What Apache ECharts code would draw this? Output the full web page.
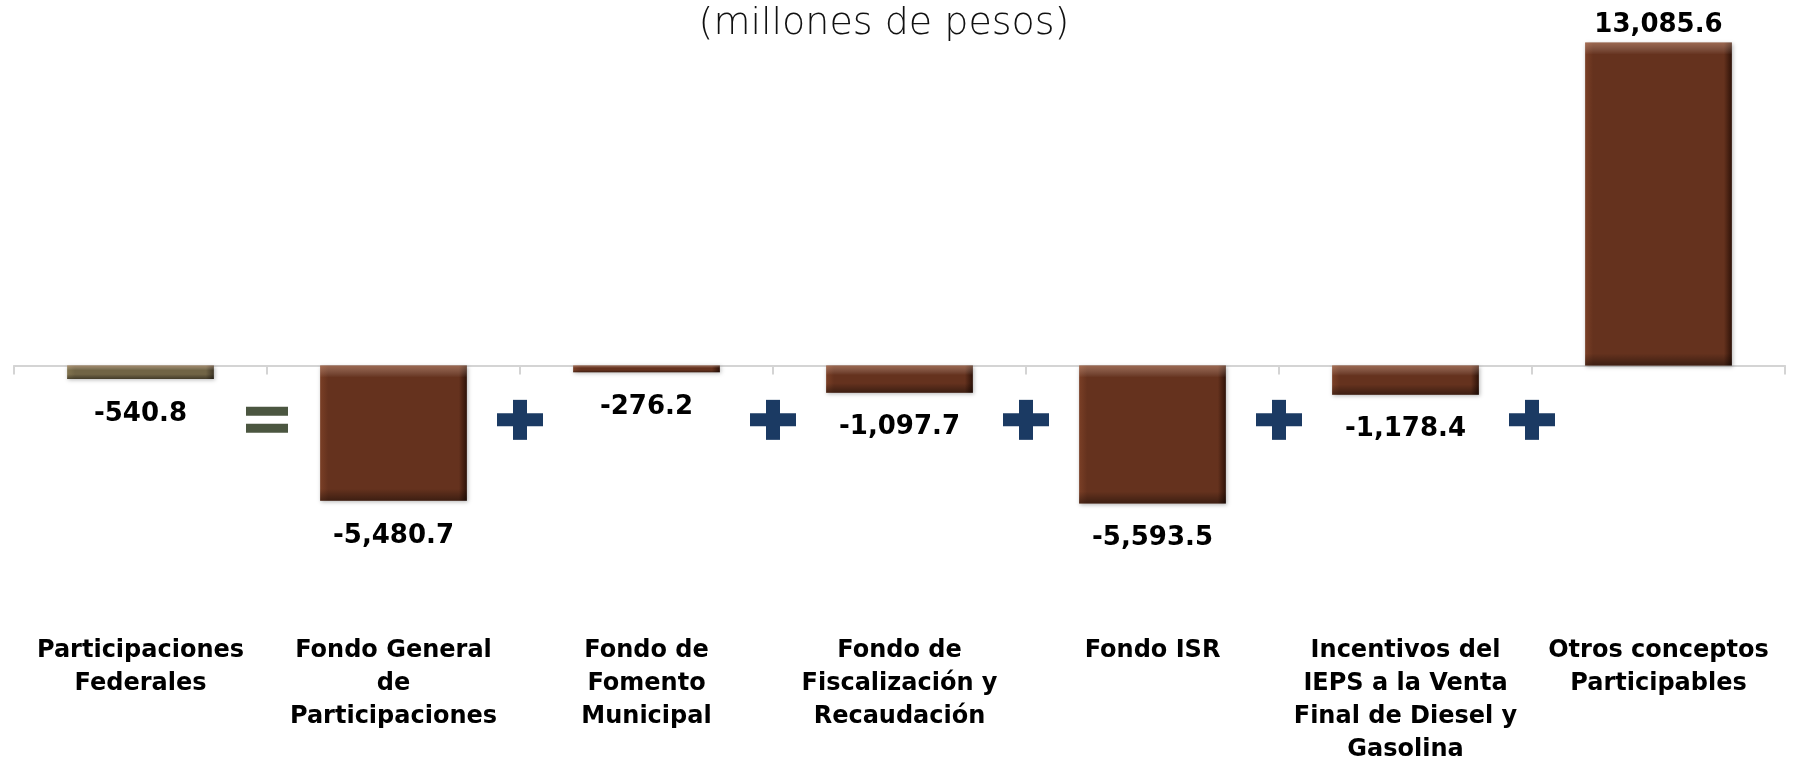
<!DOCTYPE html>
<html>
<head>
<meta charset="utf-8">
<title>Participaciones Federales</title>
<style>
  html, body { margin: 0; padding: 0; background: #fff; }
  #chart { width: 1794px; height: 758px; }
</style>
<script src="https://cdn.jsdelivr.net/npm/echarts@6/dist/echarts.min.js"></script>
</head>
<body>
<div id="chart"></div>
<script>
/* categorias y valores (millones de pesos) */
var categorias = [
    'Participaciones\nFederales',
    'Fondo General\nde\nParticipaciones',
    'Fondo de\nFomento\nMunicipal',
    'Fondo de\nFiscalización y\nRecaudación',
    'Fondo ISR',
    'Incentivos del\nIEPS a la Venta\nFinal de Diesel y\nGasolina',
    'Otros conceptos\nParticipables'
];
var valores = [-540.8, -5480.7, -276.2, -1097.7, -5593.5, -1178.4, 13085.6];

/* signos entre las barras */
var operadores = ['=', '+', '+', '+', '+', '+'];

/* escala del eje y */
var Y_MIN = -8000;
var Y_MAX = 14000;
var OP_Y = -2200;           // altura de los signos
var GRID_H = 543;           // alto del area de trazo
var PX = GRID_H / (Y_MAX - Y_MIN);
var BAR_W = 147;

/*formato 1,234.5*/
function fmt(v) {
    var s = Math.abs(v).toFixed(1).split('.');
    s[0] = s[0].replace(/\B(?=(\d{3})+(?!\d))/g, ',');
    return (v < 0 ? '-' : '') + s.join('.');
}

var cafe = { hi: '#7a3f26', mid: '#65321e', lo: '#2e1208' };
var olivo = { hi: '#82744f', mid: '#716445', lo: '#3f3626' };

/*base: bordes laterales*/
function estiloBase(v, i) {
    var p = i === 0 ? olivo : cafe;
    var e = 8 / BAR_W;
    return {
        color: {
            type: 'linear', x: 0, y: 0, x2: 1, y2: 0,
            colorStops: [
                { offset: 0, color: p.hi },
                { offset: e, color: p.mid },
                { offset: 1 - e, color: p.mid },
                { offset: 1, color: p.lo }
            ]
        },
        shadowColor: 'rgba(0,0,0,0.28)',
        shadowBlur: 4,
        shadowOffsetX: 1,
        shadowOffsetY: 1
    };
}

/*bisel arriba / abajo*/
function estiloBisel(v) {
    var h = Math.abs(v) * PX;
    var e = Math.min(12, h * 0.35) / h;
    return {
        color: {
            type: 'linear', x: 0, y: 0, x2: 0, y2: 1,
            colorStops: [
                { offset: 0, color: 'rgba(255,200,170,0.35)' },
                { offset: e, color: 'rgba(255,255,255,0)' },
                { offset: 1 - e, color: 'rgba(0,0,0,0)' },
                { offset: 1, color: 'rgba(0,0,0,0.4)' }
            ]
        }
    };
}

var datosBase = valores.map(function (v, i) {
    return {
        value: v,
        itemStyle: estiloBase(v, i),
        label: { position: v < 0 ? 'bottom' : 'top', distance: v < 0 ? 22 : 4 }
    };
});
var datosBisel = valores.map(function (v) {
    return { value: v, itemStyle: estiloBisel(v) };
});

var dom = document.getElementById('chart');
var myChart = echarts.init(dom);

var option = {
    animation: false,
    title: {
        text: '(millones de pesos)',
        left: 879,
        top: 0,
        textAlign: 'center',
        textStyle: {
            fontFamily: 'DejaVu Sans',
            fontWeight: 200,
            fontSize: 38,
            color: '#111'
        }
    },
    grid: { left: 14, right: 9, top: 20, bottom: 195, containLabel: false, outerBoundsMode: 'none' },
    xAxis: [
        {
            type: 'category',
            data: categorias,
            position: 'top',
            axisLine: { onZero: true, lineStyle: { color: '#d4d4d4', width: 2 } },
            axisTick: { show: true, inside: true, length: 9, lineStyle: { color: '#d4d4d4', width: 2 } },
            axisLabel: { show: false }
        },
        {
            type: 'category',
            data: categorias,
            position: 'bottom',
            axisLine: { show: false, onZero: false },
            axisTick: { show: false },
            axisLabel: {
                interval: 0,
                margin: 71,
                fontFamily: 'DejaVu Sans',
                fontWeight: 'bold',
                fontSize: 24,
                lineHeight: 33,
                color: '#000',
                align: 'center'
            }
        }
    ],
    yAxis: {
        type: 'value',
        min: Y_MIN,
        max: Y_MAX,
        show: false,
        splitLine: { show: false }
    },
    series: [
        {
            type: 'bar',
            xAxisIndex: 0,
            barWidth: '58%',
            barGap: '-100%',
            data: datosBase,
            label: {
                show: true,
                formatter: function (p) { return fmt(p.value); },
                fontFamily: 'DejaVu Sans',
                fontWeight: 'bold',
                fontSize: 26,
                color: '#000'
            }
        },
        {
            type: 'bar',
            xAxisIndex: 0,
            barWidth: '58%',
            barGap: '-100%',
            silent: true,
            data: datosBisel
        },
        {
            /*signos = y +*/
            type: 'custom',
            xAxisIndex: 0,
            silent: true,
            z: 5,
            encode: { x: 0, y: 1 },
            data: operadores.map(function (s, i) { return [i, OP_Y]; }),
            renderItem: function (params, api) {
                var i = params.dataIndex;
                var a = api.coord([i, OP_Y]);
                var b = api.coord([i + 1, OP_Y]);
                var cx = (a[0] + b[0]) / 2, cy = a[1];
                if (operadores[i] === '=') {
                    var c1 = '#4b5640';
                    return {
                        type: 'group',
                        children: [
                            { type: 'rect', shape: { x: cx - 21, y: cy - 13, width: 42, height: 9 }, style: { fill: c1 } },
                            { type: 'rect', shape: { x: cx - 21, y: cy + 4, width: 42, height: 9 }, style: { fill: c1 } }
                        ]
                    };
                }
                var c2 = '#1b3a63';
                return {
                    type: 'group',
                    children: [
                        { type: 'rect', shape: { x: cx - 23, y: cy - 6.5, width: 46, height: 13 }, style: { fill: c2 } },
                        { type: 'rect', shape: { x: cx - 7, y: cy - 20, width: 14, height: 40 }, style: { fill: c2 } }
                    ]
                };
            }
        }
    ]
};

if (option && typeof option === 'object') {
    myChart.setOption(option, true);
}
</script>
</body>
</html>
